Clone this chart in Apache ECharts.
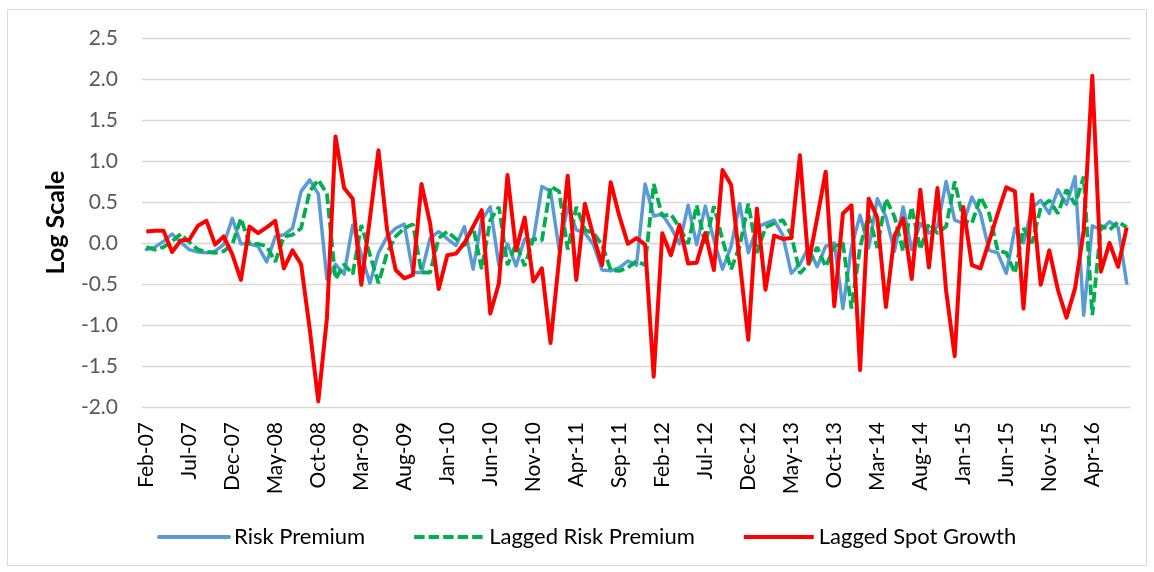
<!DOCTYPE html>
<html>
<head>
<meta charset="utf-8">
<script src="https://cdn.jsdelivr.net/npm/echarts@6/dist/echarts.min.js"></script>
<style>
  html, body { margin: 0; padding: 0; background: #ffffff; }
  #chart { width: 1154px; height: 572px; }
</style>
</head>
<body>
<div id="chart"></div>
<script>
// Monthly categories, Feb-07 .. Aug-16
const months = [
  'Feb-07','Mar-07','Apr-07','May-07','Jun-07','Jul-07','Aug-07','Sep-07','Oct-07','Nov-07','Dec-07',
  'Jan-08','Feb-08','Mar-08','Apr-08','May-08','Jun-08','Jul-08','Aug-08','Sep-08','Oct-08','Nov-08','Dec-08',
  'Jan-09','Feb-09','Mar-09','Apr-09','May-09','Jun-09','Jul-09','Aug-09','Sep-09','Oct-09','Nov-09','Dec-09',
  'Jan-10','Feb-10','Mar-10','Apr-10','May-10','Jun-10','Jul-10','Aug-10','Sep-10','Oct-10','Nov-10','Dec-10',
  'Jan-11','Feb-11','Mar-11','Apr-11','May-11','Jun-11','Jul-11','Aug-11','Sep-11','Oct-11','Nov-11','Dec-11',
  'Jan-12','Feb-12','Mar-12','Apr-12','May-12','Jun-12','Jul-12','Aug-12','Sep-12','Oct-12','Nov-12','Dec-12',
  'Jan-13','Feb-13','Mar-13','Apr-13','May-13','Jun-13','Jul-13','Aug-13','Sep-13','Oct-13','Nov-13','Dec-13',
  'Jan-14','Feb-14','Mar-14','Apr-14','May-14','Jun-14','Jul-14','Aug-14','Sep-14','Oct-14','Nov-14','Dec-14',
  'Jan-15','Feb-15','Mar-15','Apr-15','May-15','Jun-15','Jul-15','Aug-15','Sep-15','Oct-15','Nov-15','Dec-15',
  'Jan-16','Feb-16','Mar-16','Apr-16','May-16','Jun-16','Jul-16','Aug-16'
];

const riskPremium = [
  -0.08,-0.05,0.02,0.11,0.01,-0.08,-0.11,-0.12,-0.10,-0.02,
  0.30,-0.01,-0.01,-0.04,-0.23,0.08,0.10,0.18,0.63,0.77,
  0.60,-0.44,-0.26,-0.38,0.22,-0.14,-0.49,-0.12,0.08,0.18,
  0.23,-0.36,-0.36,0.06,0.14,0.05,-0.03,0.20,-0.32,0.28,
  0.44,-0.27,-0.01,-0.28,0.05,0.03,0.69,0.63,-0.08,0.44,
  0.16,0.12,-0.02,-0.33,-0.34,-0.30,-0.22,-0.27,0.72,0.33,
  0.35,0.19,-0.01,0.46,-0.02,0.45,0.04,-0.32,-0.04,0.48,
  -0.12,0.19,0.24,0.28,0.10,-0.37,-0.26,-0.05,-0.29,-0.04,
  0.00,-0.80,-0.05,0.34,-0.06,0.54,0.32,-0.10,0.44,-0.08,
  0.24,0.12,0.20,0.75,0.28,0.24,0.56,0.36,-0.09,-0.12,
  -0.37,0.18,0.00,0.43,0.52,0.36,0.65,0.47,0.81,-0.88,
  0.21,0.16,0.26,0.19,-0.49
];

const laggedRiskPremium = [
  -0.05,-0.08,-0.05,0.02,0.11,0.01,-0.08,-0.11,-0.12,-0.10,
  -0.02,0.30,-0.01,-0.01,-0.04,-0.23,0.08,0.10,0.18,0.63,
  0.77,0.60,-0.44,-0.26,-0.38,0.22,-0.14,-0.49,-0.12,0.08,
  0.18,0.23,-0.36,-0.36,0.06,0.14,0.05,-0.03,0.20,-0.32,
  0.28,0.44,-0.27,-0.01,-0.28,0.05,0.03,0.69,0.63,-0.08,
  0.44,0.16,0.12,-0.02,-0.33,-0.34,-0.30,-0.22,-0.27,0.72,
  0.33,0.35,0.19,-0.01,0.46,-0.02,0.45,0.04,-0.32,-0.04,
  0.48,-0.12,0.19,0.24,0.28,0.10,-0.37,-0.26,-0.05,-0.29,
  -0.04,0.00,-0.80,-0.05,0.34,-0.06,0.54,0.32,-0.10,0.44,
  -0.08,0.24,0.12,0.20,0.75,0.28,0.24,0.56,0.36,-0.09,
  -0.12,-0.37,0.18,0.00,0.43,0.52,0.36,0.65,0.47,0.81,
  -0.88,0.21,0.16,0.26,0.19
];

const laggedSpotGrowth = [
  0.14,0.15,0.15,-0.11,0.03,0.04,0.21,0.27,-0.02,0.08,
  -0.14,-0.45,0.20,0.12,0.19,0.27,-0.31,-0.09,-0.26,-1.05,
  -1.93,-0.92,1.30,0.67,0.54,-0.51,0.30,1.13,0.16,-0.33,
  -0.43,-0.39,0.72,0.24,-0.56,-0.15,-0.13,0.00,0.20,0.40,
  -0.86,-0.49,0.83,-0.09,0.31,-0.47,-0.31,-1.22,-0.20,0.82,
  -0.45,0.48,0.08,-0.27,0.74,0.33,-0.01,0.06,-0.02,-1.63,
  0.12,-0.15,0.22,-0.25,-0.24,0.12,-0.33,0.89,0.71,-0.22,
  -1.18,0.42,-0.57,0.09,0.05,0.06,1.07,-0.25,0.30,0.87,
  -0.77,0.36,0.46,-1.55,0.54,0.31,-0.78,0.09,0.30,-0.44,
  0.65,-0.30,0.67,-0.58,-1.38,0.44,-0.27,-0.31,0.02,0.36,
  0.68,0.63,-0.80,0.59,-0.51,-0.09,-0.57,-0.91,-0.55,0.15,
  2.04,-0.35,0.00,-0.29,0.19
];

const seriesNames = ['Risk Premium', 'Lagged Risk Premium', 'Lagged Spot Growth'];
const yTicks = { min: -2.0, max: 2.5, step: 0.5 };

const FONT = 'Lato, "Open Sans", sans-serif';
const GRID_COLOR = '#D9D9D9';

const chart = echarts.init(document.getElementById('chart'), null, { renderer: 'canvas' });

chart.setOption({
  backgroundColor: '#ffffff',
  animation: false,
  graphic: [{
    type: 'rect',
    shape: { x: 7.5, y: 9.5, width: 1139, height: 556 },
    style: { fill: 'none', stroke: '#D9D9D9', lineWidth: 1 },
    silent: true
  }],
  grid: { left: 142, right: 23, top: 38, bottom: 165 },
  legend: {
    data: seriesNames,
    left: 152,
    top: 521,
    itemWidth: 70,
    itemHeight: 4,
    itemGap: 47,
    lineStyle: { width: 4 },
    itemStyle: { opacity: 0 },
    textStyle: { fontFamily: FONT, fontSize: 22, color: '#000000' }
  },
  xAxis: {
    type: 'category',
    data: months,
    boundaryGap: true,
    axisLine: { show: true, lineStyle: { color: GRID_COLOR, width: 1.3 } },
    axisTick: { show: false },
    axisLabel: {
      interval: 4,
      rotate: 90,
      margin: 15,
      fontFamily: FONT,
      fontSize: 21,
      color: '#000000'
    },
    splitLine: { show: false }
  },
  yAxis: {
    type: 'value',
    min: yTicks.min,
    max: yTicks.max,
    interval: yTicks.step,
    name: 'Log Scale',
    nameLocation: 'middle',
    nameGap: 74,
    nameRotate: 90,
    nameTextStyle: { fontFamily: FONT, fontSize: 25, fontWeight: 'bold', color: '#000000' },
    axisLine: { show: false },
    axisTick: { show: false },
    axisLabel: {
      margin: 24,
      fontFamily: FONT,
      fontSize: 21,
      color: '#595959',
      formatter: v => v.toFixed(1)
    },
    splitLine: { lineStyle: { color: GRID_COLOR, width: 1.3 } }
  },
  series: [
    {
      name: seriesNames[0],
      type: 'line',
      data: riskPremium,
      symbol: 'none',
      lineStyle: { color: '#5B9BD5', width: 3.5, join: 'round', cap: 'round' },
      itemStyle: { color: '#5B9BD5' },
      z: 2
    },
    {
      name: seriesNames[1],
      type: 'line',
      data: laggedRiskPremium,
      symbol: 'none',
      lineStyle: { color: '#00B050', width: 3.8, type: [10.5, 4] },
      itemStyle: { color: '#00B050' },
      z: 3
    },
    {
      name: seriesNames[2],
      type: 'line',
      data: laggedSpotGrowth,
      symbol: 'none',
      lineStyle: { color: '#FF0000', width: 4, join: 'round' },
      itemStyle: { color: '#FF0000' },
      z: 4
    }
  ]
});
</script>
</body>
</html>
